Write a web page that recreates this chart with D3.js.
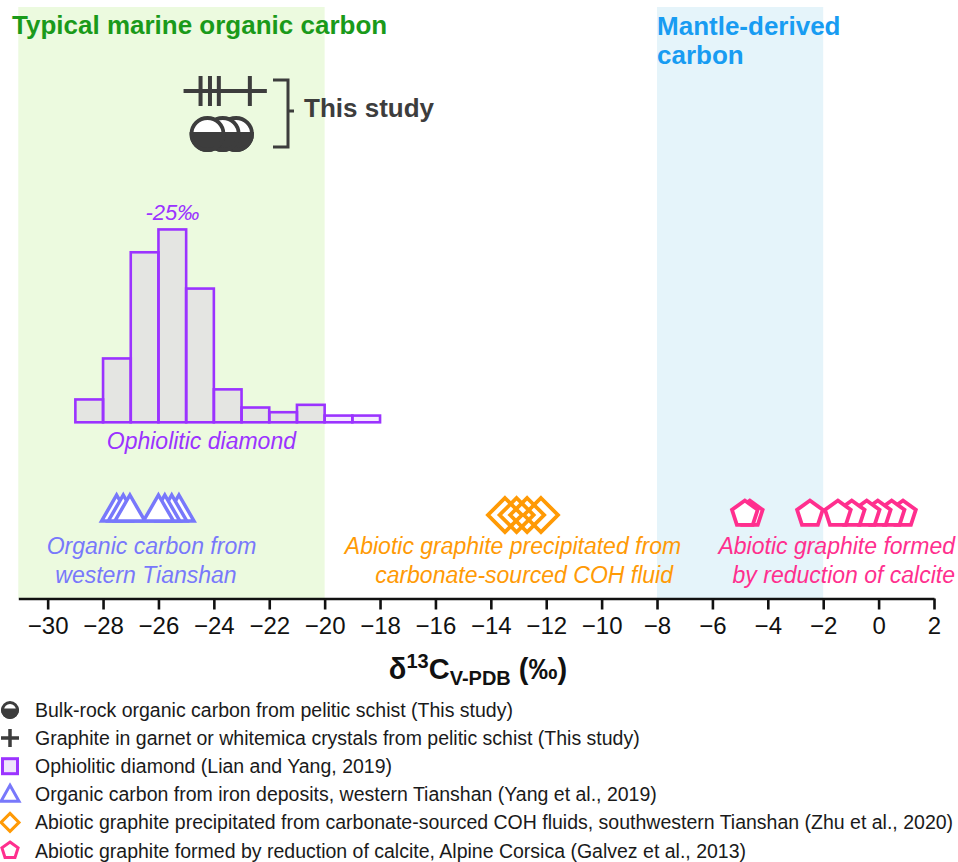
<!DOCTYPE html>
<html>
<head>
<meta charset="utf-8">
<script src="https://cdn.jsdelivr.net/npm/d3@7"></script>
<style>
  html, body { margin: 0; padding: 0; background: #fff; }
  svg { display: block; font-family: Arial, "Liberation Sans", Helvetica, sans-serif; }
</style>
</head>
<body>
<svg id="chart" width="958" height="862"></svg>
<script>
// ---- data (δ13C, ‰ V-PDB) ----
const xTicks = [-30, -28, -26, -24, -22, -20, -18, -16, -14, -12, -10, -8, -6, -4, -2, 0, 2];

// This study
const bulkRockValues = [-23.2, -23.68, -24.23];          // drawn right to left
const graphiteInclusionValues = [-24.48, -24.14, -23.82, -22.7];

// Ophiolitic diamond histogram (1‰ bins, frequency %)
const diamondBinStarts = [-29, -28, -27, -26, -25, -24, -23, -22, -21, -20, -19];
const diamondFrequency = [3.4, 9.5, 25.3, 28.7, 19.9, 4.9, 2.2, 1.5, 2.6, 1.0, 1.0];

// Organic carbon from iron deposits, western Tianshan
const tianshanOrganicValues = [-27.51, -27.27, -27.03, -25.26, -25.52, -25.77, -26.0];
// Abiotic graphite from carbonate-sourced COH fluid
const cohGraphiteValues = [-13.49, -13.07, -12.69, -12.19];
// Abiotic graphite formed by reduction of calcite
const calciteGraphiteValues = [0.88, 0.47, -0.03, -0.43, -0.97, -1.47, -2.48, -4.65, -4.83];

// reference ranges
const marineRange = [-31.06, -20];
const mantleRange = [-8, -2];

const legendLabels = [
  "Bulk-rock organic carbon from pelitic schist (This study)",
  "Graphite in garnet or whitemica crystals from pelitic schist (This study)",
  "Ophiolitic diamond (Lian and Yang, 2019)",
  "Organic carbon from iron deposits, western Tianshan (Yang et al., 2019)",
  "Abiotic graphite precipitated from carbonate-sourced COH fluids, southwestern Tianshan (Zhu et al., 2020)",
  "Abiotic graphite formed by reduction of calcite, Alpine Corsica (Galvez et al., 2013)"
];

// ---- styling ----
const C = {
  dark: "#3d3d3d",
  purple: "#9b33ff",
  tri: "#7878fb",
  orange: "#ff9a05",
  pink: "#ff2f8e",
  green: "#1a9a1a",
  blue: "#189cf2",
  greenBg: "#ecfadf",
  blueBg: "#e5f4fa"
};

const svg = d3.select("#chart");
const x = d3.scaleLinear().domain([-31.06, 2]).range([18.3, 934]);
const axisY = 598.5;
const bandTop = 7;

// ---- background ranges ----
svg.append("rect")
  .attr("x", x(marineRange[0])).attr("y", bandTop)
  .attr("width", x(marineRange[1]) - x(marineRange[0]))
  .attr("height", axisY - bandTop)
  .attr("fill", C.greenBg);
svg.append("rect")
  .attr("x", x(mantleRange[0])).attr("y", bandTop)
  .attr("width", x(mantleRange[1]) - x(mantleRange[0]))
  .attr("height", axisY - bandTop)
  .attr("fill", C.blueBg);

svg.append("text")
  .attr("x", 12).attr("y", 34)
  .attr("font-size", 26).attr("font-weight", "bold").attr("fill", C.green)
  .text("Typical marine organic carbon");
const mantleTitle = svg.append("text")
  .attr("x", x(mantleRange[0])).attr("y", 35)
  .attr("font-size", 26).attr("font-weight", "bold").attr("fill", C.blue);
mantleTitle.append("tspan").attr("x", x(mantleRange[0])).attr("dy", 0).text("Mantle-derived");
mantleTitle.append("tspan").attr("x", x(mantleRange[0])).attr("dy", 29).text("carbon");

// ---- histogram: ophiolitic diamond ----
const histBase = 422.3;
const yHist = d3.scaleLinear().domain([0, 30]).range([histBase, histBase - 30 * 6.72]);
svg.append("g").selectAll("rect")
  .data(diamondBinStarts.map((s, i) => ({ s, f: diamondFrequency[i] })))
  .join("rect")
  .attr("x", d => x(d.s))
  .attr("y", d => yHist(d.f))
  .attr("width", d => x(d.s + 1) - x(d.s))
  .attr("height", d => yHist(0) - yHist(d.f))
  .attr("fill", C.purple).attr("fill-opacity", 0.1)
  .attr("stroke", C.purple).attr("stroke-width", 2.6);

const peakBin = diamondFrequency.indexOf(d3.max(diamondFrequency));
svg.append("text")
  .attr("x", x(diamondBinStarts[peakBin] + 0.5)).attr("y", 220)
  .attr("text-anchor", "middle").attr("font-size", 22).attr("font-style", "italic")
  .attr("fill", C.purple).text("-25‰");
svg.append("text")
  .attr("x", x(-24.45)).attr("y", 449)
  .attr("text-anchor", "middle").attr("font-size", 23).attr("font-style", "italic")
  .attr("fill", C.purple).text("Ophiolitic diamond");

// ---- shape generators ----
const trianglePath = (hw, up, down) => `M0,${-up}L${hw},${down}L${-hw},${down}Z`;
const diamondPath = (h) => `M0,${-h}L${h},0L0,${h}L${-h},0Z`;
const pentagonPath = (r) => {
  const pts = d3.range(5).map(i => {
    const a = -Math.PI / 2 + i * 2 * Math.PI / 5;
    return [r * Math.cos(a), r * Math.sin(a)];
  });
  return "M" + pts.map(p => p.join(",")).join("L") + "Z";
};
const crossPath = (hw, hh) => `M${-hw},0H${hw}M0,${-hh}V${hh}`;
const halfDisc = (r) => `M${-r},0A${r},${r} 0 0 1 ${r},0Z`;

// ---- This study: graphite inclusions (crosses) ----
svg.append("g").selectAll("path")
  .data(graphiteInclusionValues).join("path")
  .attr("transform", d => `translate(${x(d)},91)`)
  .attr("d", crossPath(17, 15))
  .attr("fill", "none").attr("stroke", C.dark).attr("stroke-width", 4);

// ---- This study: bulk-rock organic carbon (half-filled circles) ----
const bulk = svg.append("g").selectAll("g")
  .data(bulkRockValues).join("g")
  .attr("transform", d => `translate(${x(d)},134)`);
bulk.append("circle").attr("r", 16).attr("fill", "#fff")
  .attr("stroke", C.dark).attr("stroke-width", 3.8);
bulk.append("path").attr("d", halfDisc(16)).attr("fill", C.dark)
  .attr("stroke", C.dark).attr("stroke-width", 3.8).attr("transform", "scale(1,-1)");

// bracket
svg.append("path")
  .attr("d", "M273,80H288V147H273M288,111H294")
  .attr("fill", "none").attr("stroke", C.dark).attr("stroke-width", 3);
svg.append("text")
  .attr("x", 304).attr("y", 117)
  .attr("font-size", 26).attr("font-weight", "bold").attr("fill", C.dark)
  .text("This study");

// ---- Organic carbon, western Tianshan (triangles) ----
svg.append("g").selectAll("path")
  .data(tianshanOrganicValues).join("path")
  .attr("transform", d => `translate(${x(d)},509)`)
  .attr("d", trianglePath(15, 14, 12))
  .attr("fill", "#fff").attr("stroke", C.tri).attr("stroke-width", 3.5)
  .attr("stroke-linejoin", "miter");

// ---- Abiotic graphite from COH fluid (diamonds) ----
svg.append("g").selectAll("path")
  .data(cohGraphiteValues).join("path")
  .attr("transform", d => `translate(${x(d)},515)`)
  .attr("d", diamondPath(17))
  .attr("fill", "none").attr("stroke", C.orange).attr("stroke-width", 3.8);

// ---- Abiotic graphite by calcite reduction (pentagons) ----
svg.append("g").selectAll("path")
  .data(calciteGraphiteValues).join("path")
  .attr("transform", d => `translate(${x(d)},514)`)
  .attr("d", pentagonPath(13.5))
  .attr("fill", "#fff").attr("stroke", C.pink).attr("stroke-width", 3.8);

// ---- group labels ----
function twoLine(positions, anchor, color, lines) {
  lines.forEach((l, i) => svg.append("text")
    .attr("x", positions[i]).attr("y", 554 + i * 29)
    .attr("text-anchor", anchor).attr("font-size", 23).attr("font-style", "italic")
    .attr("fill", color).text(l));
}
twoLine([x(-26.25), x(-26.45)], "middle", C.tri, ["Organic carbon from", "western Tianshan"]);
twoLine([x(-13.2), x(-12.8)], "middle", C.orange, ["Abiotic graphite precipitated from", "carbonate-sourced COH fluid"]);
twoLine([955, 955], "end", C.pink, ["Abiotic graphite formed", "by reduction of calcite"]);

// ---- x axis ----
const axis = svg.append("g")
  .attr("transform", `translate(0,${axisY})`)
  .call(d3.axisBottom(x).tickValues(xTicks).tickSize(11).tickSizeOuter(0)
    .tickFormat(d => d < 0 ? "\u2212" + Math.abs(d) : String(d)));
axis.select(".domain").attr("stroke", "#111").attr("stroke-width", 2.6);
axis.selectAll(".tick line").attr("stroke", "#111").attr("stroke-width", 2.6);
axis.selectAll(".tick text")
  .attr("font-size", 24).attr("font-family", "Arial, 'Liberation Sans', sans-serif")
  .attr("fill", "#111").attr("y", 18).attr("dy", "0.71em");

const xTitle = svg.append("text")
  .attr("x", 478).attr("y", 679).attr("text-anchor", "middle")
  .attr("font-weight", "bold").attr("font-size", 29).attr("fill", "#111");
xTitle.append("tspan").text("\u03b4");
xTitle.append("tspan").attr("font-size", 20).attr("dy", -11).text("13");
xTitle.append("tspan").attr("dy", 11).text("C");
xTitle.append("tspan").attr("font-size", 20).attr("dy", 6).text("V-PDB");
xTitle.append("tspan").attr("dy", -6).text(" (\u2030)");

// ---- legend ----
const legend = svg.append("g");
const rowY = i => 710 + i * 28.1;
legendLabels.forEach((label, i) => {
  legend.append("text")
    .attr("x", 35).attr("y", rowY(i) + 7)
    .attr("font-size", 19.5).attr("fill", "#1a1a1a").text(label);
});
const lx = 10;
// half-filled circle
const lg0 = legend.append("g").attr("transform", `translate(${lx},${rowY(0)})`);
lg0.append("circle").attr("r", 7.5).attr("fill", "#fff").attr("stroke", C.dark).attr("stroke-width", 3);
lg0.append("path").attr("d", halfDisc(7.5)).attr("transform", "scale(1,-1)")
  .attr("fill", C.dark).attr("stroke", C.dark).attr("stroke-width", 3);
// cross
legend.append("path").attr("transform", `translate(${lx},${rowY(1)})`)
  .attr("d", crossPath(9, 9)).attr("stroke", C.dark).attr("stroke-width", 3.5).attr("fill", "none");
// square
legend.append("rect").attr("x", lx - 7.5).attr("y", rowY(2) - 7.5).attr("width", 15).attr("height", 15)
  .attr("fill", "#efe4fb").attr("stroke", C.purple).attr("stroke-width", 3);
// triangle
legend.append("path").attr("transform", `translate(${lx},${rowY(3)})`)
  .attr("d", trianglePath(9, 9, 7)).attr("fill", "#fff").attr("stroke", C.tri).attr("stroke-width", 3);
// diamond
legend.append("path").attr("transform", `translate(${lx},${rowY(4)})`)
  .attr("d", diamondPath(9)).attr("fill", "#fff").attr("stroke", C.orange).attr("stroke-width", 3);
// pentagon
legend.append("path").attr("transform", `translate(${lx},${rowY(5)})`)
  .attr("d", pentagonPath(8.5)).attr("fill", "#fff").attr("stroke", C.pink).attr("stroke-width", 3);
</script>
</body>
</html>
